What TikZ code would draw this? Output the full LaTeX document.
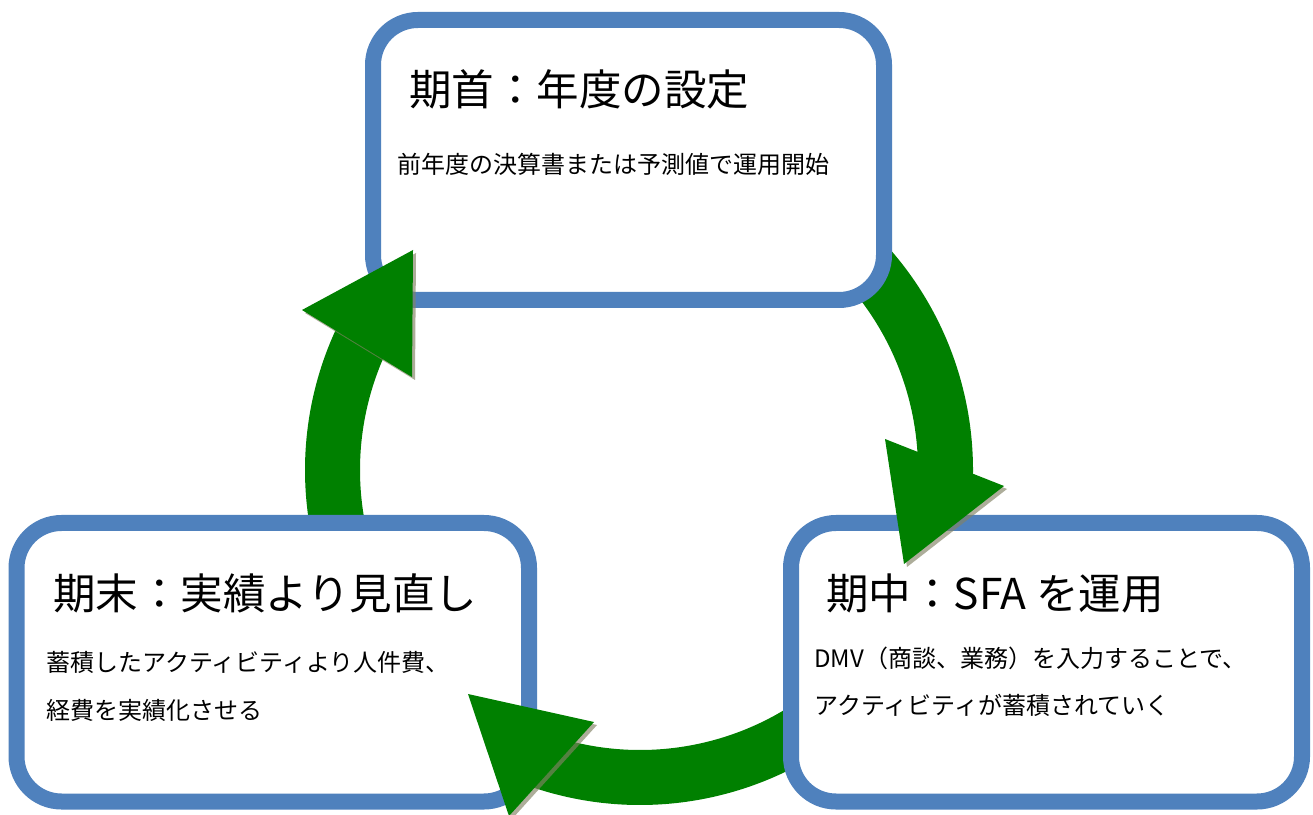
\documentclass[tikz,border=0pt]{standalone}
\usepackage{fontspec}
\setmainfont{Noto Sans CJK JP}
\usetikzlibrary{calc}
\definecolor{boxblue}{RGB}{79,129,189}
\definecolor{arrowgreen}{RGB}{0,128,0}
\definecolor{shadowc}{RGB}{130,130,100}
\begin{document}
\begin{tikzpicture}[x=1pt,y=1pt,
  box/.style={draw=boxblue, line width=16pt, rounded corners=45pt, fill=white, inner sep=0pt, outer sep=0pt},
  titletext/.style={anchor=base west, inner sep=0pt, font=\fontsize{42.5pt}{42.5pt}\selectfont},
  bodytext/.style={anchor=base west, inner sep=0pt, font=\fontsize{24pt}{24pt}\selectfont},
  band/.style={fill=arrowgreen},
  head/.style={fill=arrowgreen},
  headshadow/.style={fill=shadowc, fill opacity=0.65}]
\useasboundingbox (0,0) rectangle (1313,814);
\fill[white] (0,0) rectangle (1313,814);
\coordinate (C) at (640,344);
\coordinate (CR) at (638,344);
% arc bands
\fill[band] ($(C)+(195:335pt)$) arc[start angle=195,end angle=150,radius=335pt]
  -- ($(C)+(150:280pt)$) arc[start angle=150,end angle=195,radius=280pt] -- cycle;
\fill[band] ($(CR)+(44:335pt)$) arc[start angle=44,end angle=-5,radius=335pt]
  -- ($(CR)+(-5:280pt)$) arc[start angle=-5,end angle=44,radius=280pt] -- cycle;
\fill[band] ($(C)+(-52:335pt)$) arc[start angle=-52,end angle=-112,radius=335pt]
  -- ($(C)+(-112:280pt)$) arc[start angle=-112,end angle=-52,radius=280pt] -- cycle;
% boxes
\node[box, minimum width=511pt, minimum height=280pt] (topbox) at (628.5,654) {};
\node[box, minimum width=512.5pt, minimum height=278.5pt] (leftbox) at (272.75,151.75) {};
\node[box, minimum width=511pt, minimum height=278.5pt] (rightbox) at (1046.5,151.75) {};
% texts
\node[titletext] (t1) at (409,{814-106}) {期首：年度の設定};
\node[bodytext] (b1) at (397,{814-174}) {前年度の決算書または予測値で運用開始};
\node[titletext] (t2) at (53,{814-609}) {期末：実績より見直し};
\node[bodytext] (b2a) at (46,{814-671}) {蓄積したアクティビティより人件費、};
\node[bodytext] (b2b) at (46,{814-719}) {経費を実績化させる};
\node[titletext] (t3) at (826,{814-609}) {期中：SFA を運用};
\node[bodytext] (b3a) at (814,{814-667}) {DMV（商談、業務）を入力することで、};
\node[bodytext] (b3b) at (814,{814-714}) {アクティビティが蓄積されていく};
% arrowheads with shadows
\fill[headshadow, shift={(3,-3)}] (302,504) -- (413,564) -- (412,437) -- cycle;
\fill[head] (302,504) -- (413,564) -- (412,437) -- cycle;
\fill[headshadow, shift={(3,-3)}] (885,375) -- (1004,328) -- (904,250) -- cycle;
\fill[head] (885,375) -- (1004,328) -- (904,250) -- cycle;
\fill[headshadow, shift={(3,-3)}] (468,120) -- (594,92) -- (509,-2) -- cycle;
\fill[head] (468,120) -- (594,92) -- (509,-2) -- cycle;
\end{tikzpicture}
\end{document}
